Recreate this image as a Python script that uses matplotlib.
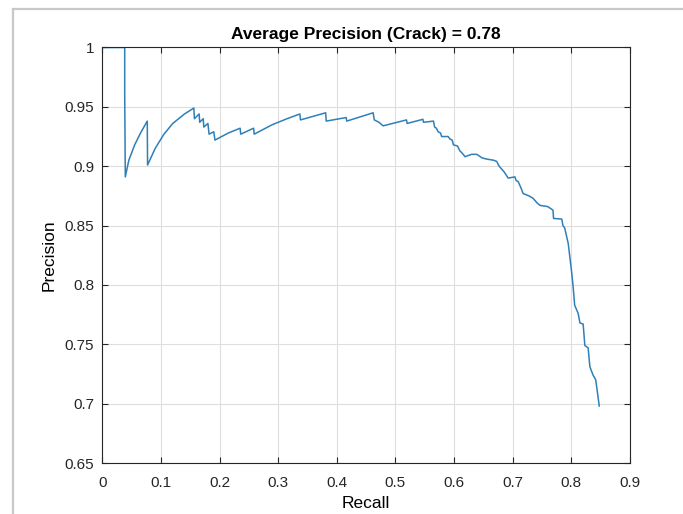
import matplotlib
matplotlib.use('Agg')
import matplotlib.pyplot as plt
from matplotlib.lines import Line2D

# values
recall = [0.0, 0.038, 0.038, 0.039, 0.045, 0.055, 0.065, 0.0765, 0.077,
          0.09, 0.105, 0.12, 0.14, 0.156, 0.157, 0.165, 0.166, 0.172, 0.173,
          0.18, 0.182, 0.19, 0.192, 0.215, 0.235, 0.236, 0.258, 0.259, 0.29,
          0.315, 0.337, 0.338, 0.381, 0.382, 0.416, 0.417, 0.462, 0.464,
          0.472, 0.479, 0.519, 0.520, 0.547, 0.548, 0.565, 0.567, 0.570,
          0.573, 0.577, 0.579, 0.590, 0.593, 0.597, 0.599, 0.606, 0.610,
          0.614, 0.619, 0.630, 0.639, 0.648, 0.656, 0.668, 0.673, 0.676,
          0.678, 0.686, 0.6925, 0.704, 0.706, 0.7096, 0.715, 0.718, 0.728,
          0.735, 0.742, 0.747, 0.760, 0.769, 0.770, 0.784, 0.786, 0.789,
          0.795, 0.8006, 0.8034, 0.806, 0.812, 0.815, 0.8205, 0.8234, 0.829,
          0.832, 0.8375, 0.842, 0.848]
precision = [1.0, 1.0, 0.96, 0.891, 0.905, 0.918, 0.928, 0.938, 0.901,
             0.915, 0.927, 0.936, 0.944, 0.949, 0.940, 0.944, 0.937, 0.940, 0.933,
             0.936, 0.927, 0.929, 0.922, 0.928, 0.932, 0.927, 0.932, 0.927, 0.935,
             0.940, 0.944, 0.939, 0.945, 0.938, 0.941, 0.938, 0.945, 0.939,
             0.937, 0.934, 0.939, 0.936, 0.9395, 0.937, 0.938, 0.933, 0.932,
             0.929, 0.928, 0.925, 0.925, 0.923, 0.922, 0.918, 0.917, 0.913,
             0.911, 0.908, 0.910, 0.910, 0.907, 0.906, 0.905, 0.904, 0.901,
             0.8995, 0.895, 0.890, 0.891, 0.888, 0.887, 0.881, 0.877, 0.875,
             0.873, 0.869, 0.867, 0.866, 0.863, 0.856, 0.8555, 0.850, 0.848,
             0.835, 0.812, 0.7985, 0.783, 0.776, 0.768, 0.767, 0.749, 0.747,
             0.731, 0.724, 0.720, 0.698]
xticks = [0, 0.1, 0.2, 0.3, 0.4, 0.5, 0.6, 0.7, 0.8, 0.9]
yticks = [0.65, 0.7, 0.75, 0.8, 0.85, 0.9, 0.95, 1]

plt.rcParams['font.family'] = ['Liberation Sans', 'DejaVu Sans']

fig = plt.figure(figsize=(6.83, 5.14), dpi=100)
ax = fig.add_axes([0.150, 0.0992, 0.772, 0.8084])

ax.plot(recall, precision, color='#2f7fb8', lw=1.1)

ax.set_xlim(0, 0.9)
ax.set_ylim(0.65, 1)
ax.set_xticks(xticks)
ax.set_yticks(yticks)
ax.set_xticklabels(['0', '0.1', '0.2', '0.3', '0.4', '0.5', '0.6', '0.7', '0.8', '0.9'])
ax.set_yticklabels(['0.65', '0.7', '0.75', '0.8', '0.85', '0.9', '0.95', '1'])
ax.grid(True, color='#dedede', lw=0.8)
ax.set_axisbelow(True)
ax.tick_params(direction='in', length=4, width=0.8, colors='#262626',
               labelsize=11, top=True, right=True)
ax.tick_params(axis='x', pad=9)
ax.tick_params(axis='y', pad=6)
for s in ax.spines.values():
    s.set_color('#262626')
    s.set_linewidth(0.8)

ax.set_title('Average Precision (Crack) = 0.78', fontsize=12.5, fontweight='bold', pad=6)
ax.set_xlabel('Recall', fontsize=12.5, labelpad=5)
ax.set_ylabel('Precision', fontsize=12.5, labelpad=6)

# window frame seen in the screenshot
fig.add_artist(Line2D([12.7 / 683, 12.7 / 683], [0, 1 - 8.7 / 514],
                      transform=fig.transFigure, color='#c8c8c8', lw=1.6))
fig.add_artist(Line2D([12.7 / 683, 1], [1 - 8.7 / 514, 1 - 8.7 / 514],
                      transform=fig.transFigure, color='#c8c8c8', lw=1.6))

fig.savefig('out.png', dpi=100)
